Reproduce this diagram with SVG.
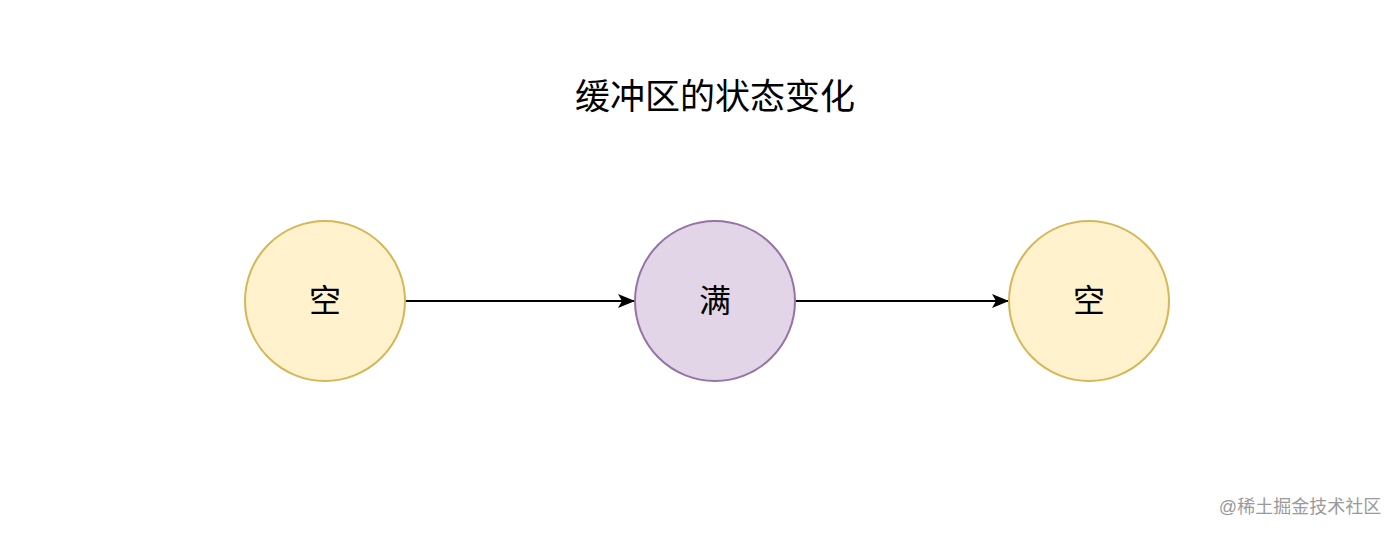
<svg xmlns="http://www.w3.org/2000/svg" width="1398" height="534" viewBox="0 0 1398 534">
<style>
text{font-family:"Liberation Sans","Noto Sans CJK SC",sans-serif;text-anchor:middle;dominant-baseline:central;fill:#000}
.y{fill:#fff2cc;stroke:#d6b656;stroke-width:2}
.p{fill:#e1d5e7;stroke:#9673a6;stroke-width:2}
.c{stroke:#000;stroke-width:2;fill:none;marker-end:url(#a)}
</style>
<defs><marker id="a" markerWidth="18" markerHeight="16" refX="17" refY="8" orient="auto" markerUnits="userSpaceOnUse"><path d="M0,1 L17,8 L0,15 L4,8 Z" fill="#000"/></marker></defs>
<rect width="1398" height="534" fill="#fff"/>
<text x="715" y="96" font-size="35">缓冲区的状态变化</text>
<g id="connectors">
<path class="c" d="M405,301 H635"/>
<path class="c" d="M795,301 H1009"/>
</g>
<g id="n1"><circle class="y" cx="325" cy="301" r="80"/><text x="325" y="301" font-size="32">空</text></g>
<g id="n2"><circle class="p" cx="715" cy="301" r="80"/><text x="715" y="301" font-size="32">满</text></g>
<g id="n3"><circle class="y" cx="1089" cy="301" r="80"/><text x="1089" y="301" font-size="32">空</text></g>
<text x="1300" y="507" font-size="18" style="fill:#9a9a9a">@稀土掘金技术社区</text>
</svg>
